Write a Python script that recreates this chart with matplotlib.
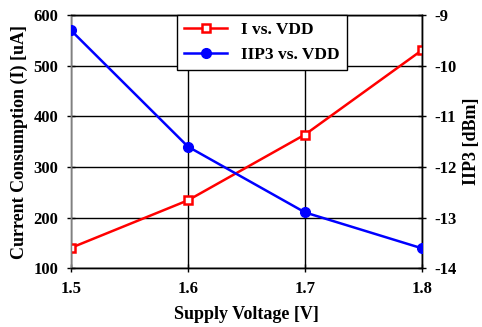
import matplotlib.pyplot as plt

vdd = [1.5, 1.6, 1.7, 1.8]
current_ua = [140, 234, 364, 531]
iip3_dbm = [-9.30, -11.60, -12.90, -13.61]

plt.rcParams['font.family'] = ['Liberation Serif', 'DejaVu Serif']
plt.rcParams['font.weight'] = 'bold'
plt.rcParams['axes.unicode_minus'] = False

fig = plt.figure(figsize=(4.82, 3.27), dpi=100)
ax = fig.add_axes([0.147, 0.180, 0.729, 0.774])
ax2 = ax.twinx()

l1, = ax.plot(vdd, current_ua, color='red', lw=1.8, marker='s', ms=6,
              mfc='white', mec='red', mew=1.8, label='I vs. VDD', zorder=3)
l2, = ax2.plot(vdd, iip3_dbm, color='blue', lw=1.8, marker='o', ms=7,
               mfc='blue', mec='blue', label='IIP3 vs. VDD', zorder=3)

ax.set_xlim(1.5, 1.8)
ax.set_ylim(100, 600)
ax2.set_ylim(-14, -9)
ax.set_xticks(vdd)
ax.set_xticklabels(['1.5', '1.6', '1.7', '1.8'])
ax.set_yticks(range(100, 601, 100))
ax2.set_yticks(range(-14, -8))

ax.grid(True, color='black', lw=1)
ax.set_axisbelow(True)
for a in (ax, ax2):
    a.tick_params(direction='inout', length=6, width=1, labelsize=12, pad=6)
    for s in a.spines.values():
        s.set_linewidth(1)
ax.tick_params(axis='x', pad=6)
ax.spines['left'].set_color('gray')
ax2.spines['left'].set_color('gray')

ax.set_xlabel('Supply Voltage [V]', fontsize=13, fontweight='bold', labelpad=7)
ax.set_ylabel('Current Consumption (I) [uA]', fontsize=13, fontweight='bold', labelpad=4)
ax2.set_ylabel('IIP3 [dBm]', fontsize=13, fontweight='bold', labelpad=4)

leg = ax2.legend(handles=[l1, l2], loc='upper left', bbox_to_anchor=(0.302, 1.0),
                 fontsize=12.5, frameon=True, fancybox=False, edgecolor='black',
                 framealpha=1, borderaxespad=0, handlelength=2.5, borderpad=0.4,
                 labelspacing=0.5)
leg.get_frame().set_linewidth(1)

fig.savefig('out.png', dpi=100)
